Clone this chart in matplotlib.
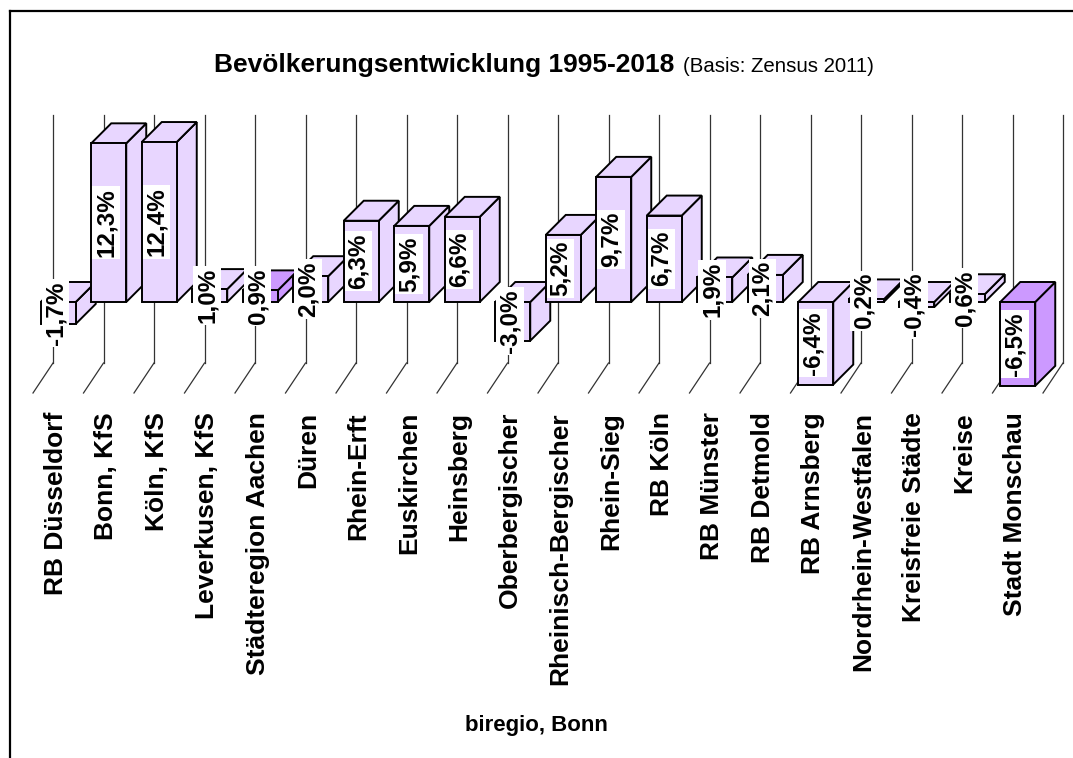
import matplotlib.pyplot as plt
from matplotlib.patches import Polygon
from matplotlib.lines import Line2D
from matplotlib import font_manager

plt.rcParams['font.family'] = ['Liberation Sans', 'DejaVu Sans']

# Daten
kategorien = ["RB Düsseldorf", "Bonn, KfS", "Köln, KfS", "Leverkusen, KfS",
              "Städteregion Aachen", "Düren", "Rhein-Erft", "Euskirchen",
              "Heinsberg", "Oberbergischer", "Rheinisch-Bergischer", "Rhein-Sieg",
              "RB Köln", "RB Münster", "RB Detmold", "RB Arnsberg",
              "Nordrhein-Westfalen", "Kreisfreie Städte", "Kreise", "Stadt Monschau"]
werte = [-1.7, 12.3, 12.4, 1.0, 0.9, 2.0, 6.3, 5.9, 6.6, -3.0,
         5.2, 9.7, 6.7, 1.9, 2.1, -6.4, 0.2, -0.4, 0.6, -6.5]
hervorgehoben = ["Städteregion Aachen", "Stadt Monschau"]

HELL = "#E8D6FF"
DUNKEL = "#CC99FF"

# schmale Schrift fuer die Wertebeschriftung, falls vorhanden
namen = {f.name for f in font_manager.fontManager.ttflist}
if 'Liberation Sans Narrow' in namen:
    wert_font, wert_size = 'Liberation Sans Narrow', 20.5
else:
    wert_font, wert_size = 'Liberation Sans', 17.5

# Layout in Pixel
W, H = 1073, 758
X0, DX = 53, 50.5     # linke Rueckwand-Linie, Breite je Kategorie
Y0, DY = 282, 12.9    # Nulllinie (hinten), Pixel je Prozentpunkt

fig = plt.figure(figsize=(W / 100, H / 100), dpi=100)
ax = fig.add_axes([0, 0, 1, 1])
ax.set_xlim(-X0 / DX, (W - X0) / DX)
ax.set_ylim((Y0 - H) / DY, Y0 / DY)
ax.axis('off')

tief_x, tief_y = -20 / DX, -20 / DY      # Saeulentiefe (hinten -> vorne)
boden_x, boden_y = -20 / DX, -30 / DY    # Bodentiefe
wand_oben, wand_unten = (Y0 - 115) / DY, (Y0 - 363) / DY
breite = 35 / DX

# Rueckwand-Gitterlinien und Boden
for i in range(len(werte) + 1):
    ax.plot([i, i], [wand_unten, wand_oben], color='#333333', lw=0.9, zorder=1)
    ax.plot([i, i + boden_x], [wand_unten, wand_unten + boden_y],
            color='#333333', lw=0.9, zorder=1)

# 3D-Saeulen
for i, (name, v) in enumerate(zip(kategorien, werte)):
    farbe = DUNKEL if name in hervorgehoben else HELL
    l = i + (1 - breite) / 2
    r = l + breite
    oben, unten = max(v, 0), min(v, 0)
    front = [(l + tief_x, unten + tief_y), (r + tief_x, unten + tief_y),
             (r + tief_x, oben + tief_y), (l + tief_x, oben + tief_y)]
    deckel = [(l + tief_x, oben + tief_y), (r + tief_x, oben + tief_y), (r, oben), (l, oben)]
    seite = [(r + tief_x, unten + tief_y), (r, unten), (r, oben), (r + tief_x, oben + tief_y)]
    for pts in (seite, deckel, front):
        ax.add_patch(Polygon(pts, closed=True, fc=farbe, ec='black', lw=1.4,
                             joinstyle='miter', zorder=2 + i))
    ax.text(i + 0.05, (oben + unten) / 2 + tief_y, f"{v:.1f}%".replace('.', ','),
            rotation=90, ha='center', va='center', fontsize=wert_size, fontweight='bold',
            family=[wert_font, 'Liberation Sans', 'DejaVu Sans'],
            bbox=dict(facecolor='white', edgecolor='none', pad=1.5), zorder=50)
    ax.text(i + 0.05, (Y0 - 412) / DY, name, rotation=90, ha='center', va='top',
            fontsize=19, fontweight='bold')

# Titel
fig.text(674 / W, 1 - 72 / H, "Bevölkerungsentwicklung 1995-2018", ha='right',
         va='baseline', fontsize=19, fontweight='bold')
fig.text(683 / W, 1 - 72 / H, "(Basis: Zensus 2011)", ha='left', va='baseline', fontsize=14.7)
fig.text(536 / W, 1 - 731 / H, "biregio, Bonn", ha='center', va='baseline',
         fontsize=16, fontweight='bold')

# Rahmen
fig.add_artist(Line2D([10 / W, 10 / W], [0, 1 - 11 / H], color='black', lw=1.6))
fig.add_artist(Line2D([10 / W, 1], [1 - 11 / H, 1 - 11 / H], color='black', lw=1.6))

fig.savefig("out.png", dpi=100)
